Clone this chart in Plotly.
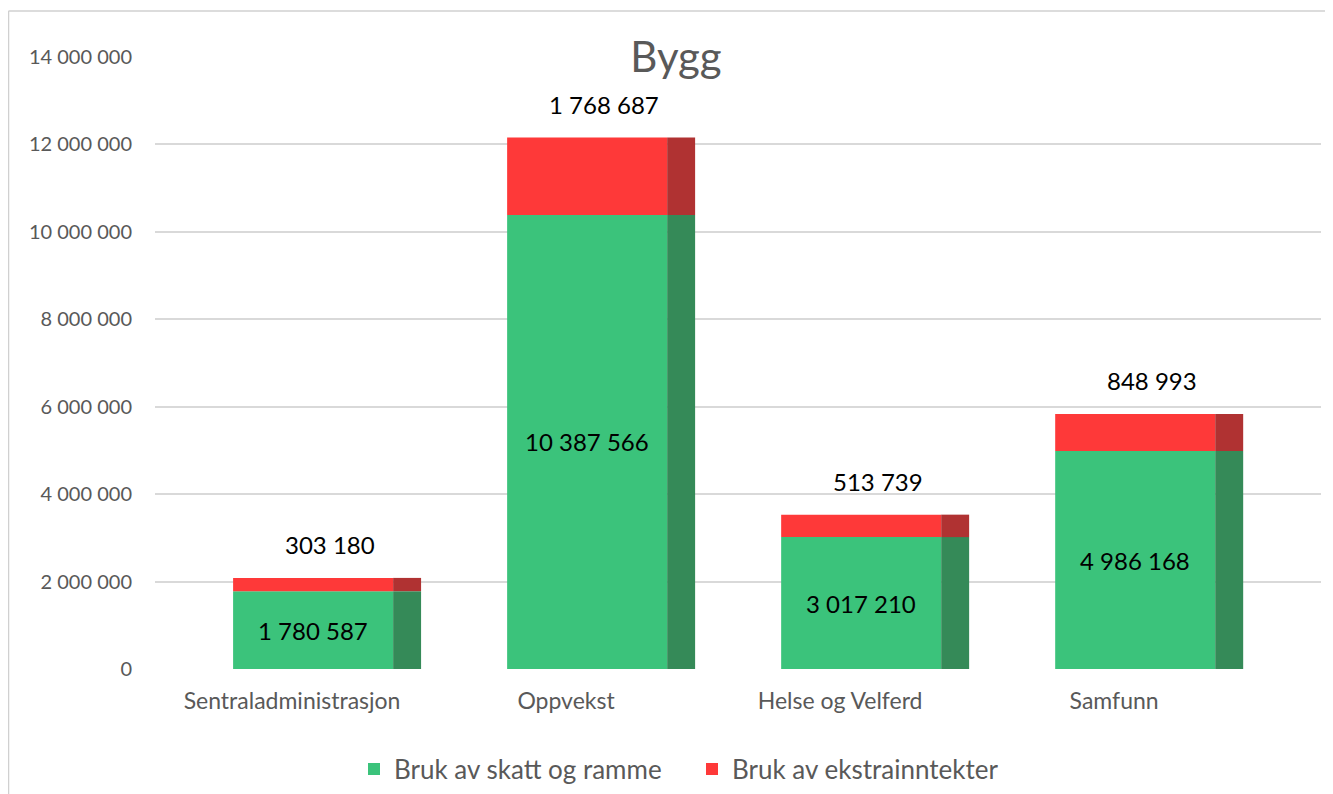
import plotly.graph_objects as go

categories = ["Sentraladministrasjon", "Oppvekst", "Helse og Velferd", "Samfunn"]
skatt_ramme = [1780587, 10387566, 3017210, 4986168]
ekstrainntekter = [303180, 1768687, 513739, 848993]
series_names = ["Bruk av skatt og ramme", "Bruk av ekstrainntekter"]
y_ticks = [0, 2000000, 4000000, 6000000, 8000000, 10000000, 12000000, 14000000]

GREEN = "#3BC37B"
GREEN_SIDE = "#358A58"
RED = "#FE3939"
RED_SIDE = "#B03232"
GRAY = "#595959"
FONT = "Lato, 'Open Sans', sans-serif"

W, H = 1325, 786          # page has an 8px body margin
L, R, T, B = 147, 12, 49, 125
PW, PH = W - L - R, H - T - B

xpos = list(range(len(categories)))
totals = [g + r for g, r in zip(skatt_ramme, ekstrainntekter)]

FRONT_OFF, FRONT_W = -0.215, 0.584
SIDE_OFF, SIDE_W = 0.369, 0.102

fig = go.Figure()
fig.add_bar(x=xpos, y=skatt_ramme, base=[0] * len(xpos), offset=FRONT_OFF, width=FRONT_W,
            marker=dict(color=GREEN, line=dict(width=0)), name=series_names[0], hoverinfo="skip")
fig.add_bar(x=xpos, y=ekstrainntekter, base=skatt_ramme, offset=FRONT_OFF, width=FRONT_W,
            marker=dict(color=RED, line=dict(width=0)), name=series_names[1], hoverinfo="skip")
fig.add_bar(x=xpos, y=skatt_ramme, base=[0] * len(xpos), offset=SIDE_OFF, width=SIDE_W,
            marker=dict(color=GREEN_SIDE, line=dict(width=0)), showlegend=False, hoverinfo="skip")
fig.add_bar(x=xpos, y=ekstrainntekter, base=skatt_ramme, offset=SIDE_OFF, width=SIDE_W,
            marker=dict(color=RED_SIDE, line=dict(width=0)), showlegend=False, hoverinfo="skip")

annotations = []
for i, (g, r, t) in enumerate(zip(skatt_ramme, ekstrainntekter, totals)):
    annotations.append(dict(x=i + FRONT_OFF + FRONT_W / 2, y=g / 2, xref="x", yref="y",
                            text=f"{g:,}".replace(",", " "), showarrow=False,
                            font=dict(size=24, color="black", family=FONT)))
    annotations.append(dict(x=i + 0.14, y=t, xref="x", yref="y", yshift=33,
                            text=f"{r:,}".replace(",", " "), showarrow=False,
                            font=dict(size=24, color="black", family=FONT)))

fig.update_layout(
    width=W, height=H,
    margin=dict(l=L, r=R, t=T, b=B),
    paper_bgcolor="white", plot_bgcolor="white",
    barmode="overlay",
    separators=", ",
    font=dict(family=FONT, color=GRAY),
    title=dict(text="Bygg", x=(676 - 8) / W, xanchor="center", y=1 - (57 - 8) / H, yanchor="middle",
               font=dict(size=42, color=GRAY, family=FONT)),
    xaxis=dict(range=[-0.5, 3.755], tickmode="array", tickvals=xpos, ticktext=categories,
               showgrid=False, zeroline=False, showline=False, ticks="",
               tickfont=dict(size=23, color=GRAY), ticklabelstandoff=16),
    yaxis=dict(range=[0, 14000000], tickmode="array", tickvals=y_ticks, tickformat=",d",
               showgrid=True, gridcolor="#D9D9D9", gridwidth=1.5, zeroline=False, showline=False,
               ticks="", tickfont=dict(size=20, color=GRAY), ticklabelstandoff=22),
    legend=dict(orientation="h", x=(354 - 8) / W, xanchor="left", xref="container",
                y=1 - (769 - 8) / H, yanchor="middle", yref="container",
                font=dict(size=26, color=GRAY), itemwidth=30,
                entrywidth=293, entrywidthmode="pixels",
                traceorder="normal"),
    annotations=annotations,
    shapes=[
        dict(type="line", xref="paper", yref="paper", x0=(0.5 - L) / PW, x1=(W + 10 - L) / PW,
             y0=(PH + T - 3) / PH, y1=(PH + T - 3) / PH, line=dict(color="#D0D0D0", width=1.5), layer="below"),
        dict(type="line", xref="paper", yref="paper", x0=(0.5 - L) / PW, x1=(0.5 - L) / PW,
             y0=(PH + T - 3) / PH, y1=-(B + 10) / PH, line=dict(color="#D0D0D0", width=1.5), layer="below"),
    ],
)
fig.write_html("out.html")
